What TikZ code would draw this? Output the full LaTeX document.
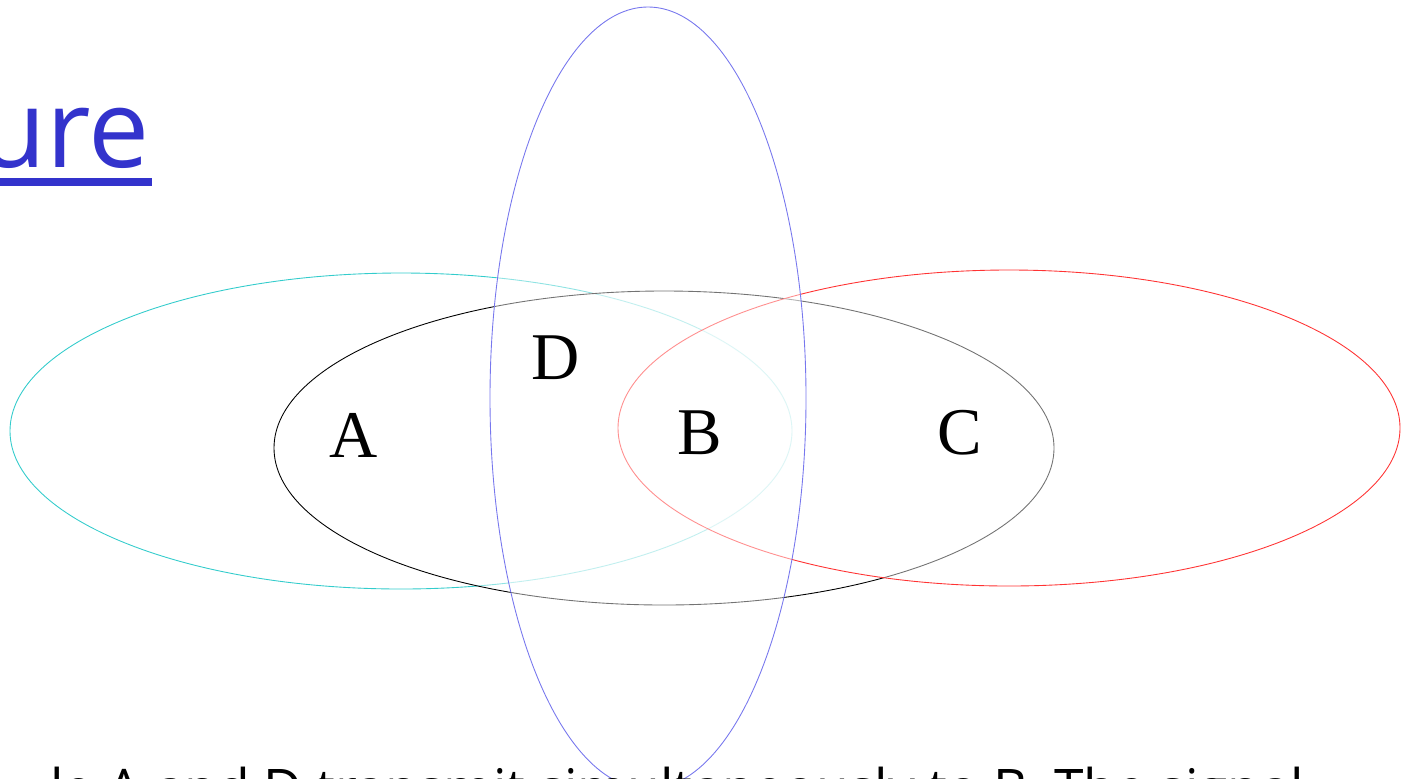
\documentclass[tikz,border=0pt]{standalone}
\usepackage{fontspec}
\setmainfont{Liberation Serif}
\newfontfamily\slidefont{Open Sans}
\usepackage{tikz}

\definecolor{titleblue}{HTML}{3333CC}
\definecolor{rangecyan}{HTML}{33CCCC}
\definecolor{rangered}{HTML}{FF3333}
\definecolor{rangeblue}{HTML}{7777EE}

\tikzset{
  radiorange/.style={line width=0.5pt, fill=white, fill opacity=0.45},
  station/.style={inner sep=0pt, anchor=base, font=\fontsize{38}{40}\selectfont},
}

\begin{document}
\begin{tikzpicture}[x=0.02cm,y=-0.02cm]
  \useasboundingbox (0,0) rectangle (1405,778);
  \clip (0,0) rectangle (1405,778);

  % Title
  \node[anchor=base east, inner sep=0pt, text=titleblue, font=\slidefont\fontsize{62}{64}\selectfont] (title) at (150,167) {ure};
  \fill[titleblue] (0,178) rectangle (152,186);

  % Range of A
  \draw[radiorange, draw=rangecyan] (401,431) ellipse [x radius=391, y radius=158];

  % Range of B
  \draw[radiorange, draw=black] (664,448) ellipse [x radius=390, y radius=157];

  % Range of C
  \draw[radiorange, draw=rangered] (1009,428) ellipse [x radius=391, y radius=158];

  % Range of D
  \draw[radiorange, draw=rangeblue] (648,398) ellipse [x radius=158, y radius=391];

  % Stations
  \node[station] (A) at (354,457) {A};
  \node[station] (D) at (556,379) {D};
  \node[station] (B) at (700,454) {B};
  \node[station] (C) at (960,454) {C};

  % Caption
  \node[anchor=base west, inner sep=0pt, font=\slidefont\fontsize{30.3}{32}\selectfont] (caption) at (50,807) {le A and D transmit simultaneously to B. The signal};
\end{tikzpicture}
\end{document}
